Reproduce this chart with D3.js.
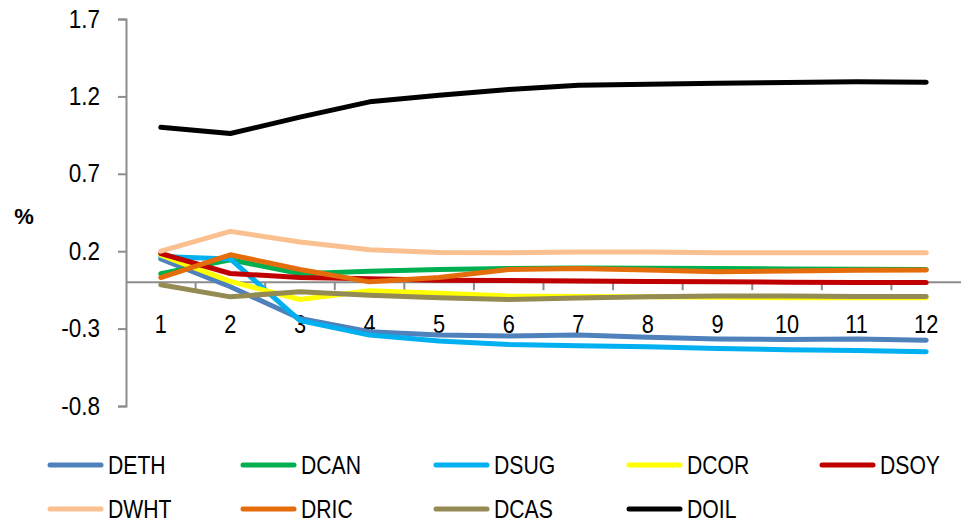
<!DOCTYPE html>
<html>
<head>
<meta charset="utf-8">
<script src="https://cdn.jsdelivr.net/npm/d3@7"></script>
<style>
  html, body { margin: 0; padding: 0; background: #fff; }
  svg { display: block; }
  text { font-family: "Liberation Sans", Arial, sans-serif; fill: #000; }
</style>
</head>
<body>
<svg id="chart" width="965" height="529"></svg>
<script>
// Periods on the horizontal axis
const periods = [1, 2, 3, 4, 5, 6, 7, 8, 9, 10, 11, 12];

// Response of each series (%) by period
const DETH = [0.15, -0.03, -0.235, -0.32, -0.342, -0.348, -0.342, -0.356, -0.367, -0.37, -0.367, -0.375];
const DCAN = [0.055, 0.145, 0.055, 0.07, 0.082, 0.088, 0.092, 0.09, 0.088, 0.085, 0.083, 0.082];
const DSUG = [0.165, 0.15, -0.248, -0.342, -0.38, -0.402, -0.41, -0.418, -0.428, -0.436, -0.442, -0.45];
const DCOR = [0.175, 0.005, -0.112, -0.056, -0.072, -0.09, -0.093, -0.095, -0.097, -0.1, -0.1, -0.1];
const DSOY = [0.185, 0.056, 0.03, 0.022, 0.013, 0.01, 0.008, 0.005, 0.002, 0.0, -0.002, -0.003];
const DWHT = [0.2, 0.328, 0.26, 0.21, 0.192, 0.19, 0.195, 0.195, 0.19, 0.19, 0.19, 0.19];
const DRIC = [0.03, 0.177, 0.082, 0.002, 0.03, 0.082, 0.088, 0.078, 0.068, 0.072, 0.077, 0.078];
const DCAS = [-0.017, -0.095, -0.062, -0.084, -0.101, -0.112, -0.103, -0.095, -0.09, -0.09, -0.093, -0.092];
const DOIL = [1.0, 0.96, 1.066, 1.165, 1.208, 1.245, 1.272, 1.279, 1.285, 1.29, 1.295, 1.292];

const seriesNames = ["DETH", "DCAN", "DSUG", "DCOR", "DSOY", "DWHT", "DRIC", "DCAS", "DOIL"];
const seriesValues = [DETH, DCAN, DSUG, DCOR, DSOY, DWHT, DRIC, DCAS, DOIL];
const seriesColors = ["#4F81BD", "#00B050", "#00B0F0", "#FFFF00", "#C00000", "#FAC090", "#E46C0A", "#948A54", "#000000"];

const yTicks = [-0.8, -0.3, 0.2, 0.7, 1.2, 1.7];
const yLabel = "%";

const svg = d3.select("#chart");
const axisColor = "#8c8c8c";

// Squeeze a text run horizontally to mimic a narrow typeface
function condense(sel, k) {
  sel.each(function () {
    const w = this.getComputedTextLength();
    d3.select(this).attr("textLength", w * k).attr("lengthAdjust", "spacingAndGlyphs");
  });
}

const x = d3.scaleBand().domain(periods).range([126, 961]).paddingInner(0).paddingOuter(0);
const y = d3.scaleLinear().domain([-0.8, 1.7]).range([406, 19]);
const cx = d => x(d) + x.bandwidth() / 2;

// Vertical value axis
const yAxis = svg.append("g")
  .attr("transform", "translate(126,0)")
  .call(d3.axisLeft(y).tickValues(yTicks).tickSize(8).tickPadding(18).tickFormat(d => d.toFixed(1)));
yAxis.select(".domain").attr("stroke", axisColor).attr("stroke-width", 2);
yAxis.selectAll(".tick line").attr("stroke", axisColor).attr("stroke-width", 2);
yAxis.selectAll(".tick text")
  .attr("font-size", 25)
  .style("font-family", "'Liberation Sans', Arial, sans-serif")
  .attr("fill", "#000")
  .call(condense, 0.9);

// Horizontal category axis crossing at zero
const y0 = y(0);
const xAxis = svg.append("g");
xAxis.append("line")
  .attr("x1", x.range()[0]).attr("x2", x.range()[1])
  .attr("y1", y0).attr("y2", y0)
  .attr("stroke", axisColor).attr("stroke-width", 2);
xAxis.selectAll("line.tick")
  .data(periods.slice(1))
  .join("line")
  .attr("class", "tick")
  .attr("x1", d => x(d)).attr("x2", d => x(d))
  .attr("y1", y0).attr("y2", y0 + 8)
  .attr("stroke", axisColor).attr("stroke-width", 2);
xAxis.selectAll("text")
  .data(periods)
  .join("text")
  .attr("x", d => cx(d))
  .attr("y", y0 + 51)
  .attr("text-anchor", "middle")
  .attr("font-size", 25)
  .text(d => d)
  .call(condense, 0.87);

// Axis title
svg.append("text")
  .attr("x", 24).attr("y", 224)
  .attr("text-anchor", "middle")
  .attr("font-size", 22)
  .attr("font-weight", "bold")
  .text(yLabel);

// Series lines
const line = d3.line()
  .x((d, i) => cx(periods[i]))
  .y(d => y(d));

svg.append("g")
  .selectAll("path")
  .data(seriesValues)
  .join("path")
  .attr("d", d => line(d))
  .attr("fill", "none")
  .attr("stroke", (d, i) => seriesColors[i])
  .attr("stroke-width", 5)
  .attr("stroke-linecap", "round")
  .attr("stroke-linejoin", "round");

// Legend: two rows of five / four entries
const legend = svg.append("g");
const entries = legend.selectAll("g")
  .data(seriesNames)
  .join("g")
  .attr("transform", (d, i) => `translate(${48 + (i % 5) * 193},${i < 5 ? 465 : 509})`);
entries.append("line")
  .attr("x1", 2).attr("x2", 53)
  .attr("y1", 0).attr("y2", 0)
  .attr("stroke", (d, i) => seriesColors[i])
  .attr("stroke-width", 5)
  .attr("stroke-linecap", "round");
entries.append("text")
  .attr("x", 60)
  .attr("y", 9)
  .attr("font-size", 25.5)
  .text(d => d)
  .call(condense, 0.83);
</script>
</body>
</html>
